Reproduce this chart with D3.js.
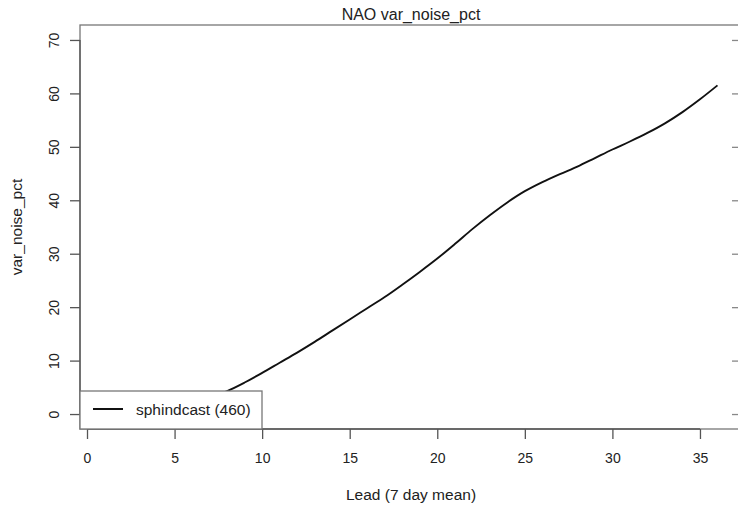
<!DOCTYPE html>
<html>
<head>
<meta charset="utf-8">
<script src="https://cdn.jsdelivr.net/npm/d3@7"></script>
<style>
  body { margin: 0; background: #fff; }
  svg { display: block; font-family: "Liberation Sans", Arial, sans-serif; }
</style>
</head>
<body>
<div id="chart"></div>
<script>
// Lead times (7 day mean) and noise variance percentage
const leads = d3.range(1, 37);
const varNoisePct = [
    0.2, 0.5, 0.9, 1.3, 1.8, 2.4, 3.1, 4.3, 5.9, 7.7,
    9.6, 11.5, 13.5, 15.6, 17.7, 19.8, 21.9, 24.2, 26.6, 29.1,
    31.8, 34.6, 37.2, 39.6, 41.7, 43.4, 44.9, 46.3, 47.9, 49.5,
    51.0, 52.6, 54.4, 56.5, 58.9, 61.5
];
const xTicks = [0, 5, 10, 15, 20, 25, 30, 35];
const yTicks = [0, 10, 20, 30, 40, 50, 60, 70];
const seriesName = "sphindcast (460)";

const width = 738, height = 506;
const box = { left: 80, right: 742, top: 25, bottom: 429 };

// R style: 4% extension of the data range
const xExt = (36 - 1) * 0.04, yExt = 70 * 0.04;
const x = d3.scaleLinear().domain([1 - xExt, 36 + xExt]).range([box.left, box.right]);
const y = d3.scaleLinear().domain([0 - yExt, 70 + yExt]).range([box.bottom, box.top]);

const svg = d3.select("#chart").append("svg")
    .attr("width", width)
    .attr("height", height);

const axisColor = "#555";
const textColor = "#222";

// plot box
svg.append("rect")
    .attr("x", box.left).attr("y", box.top)
    .attr("width", box.right - box.left).attr("height", box.bottom - box.top)
    .attr("fill", "none").attr("stroke", "#777").attr("stroke-width", 1.3);

// data line
const line = d3.line()
    .x((d, i) => x(leads[i]))
    .y(d => y(d))
    .curve(d3.curveCatmullRom);

svg.append("path")
    .datum(varNoisePct)
    .attr("d", line)
    .attr("fill", "none")
    .attr("stroke", "#111")
    .attr("stroke-width", 1.9);

// bottom axis
const xAxis = svg.append("g")
    .attr("transform", `translate(0,${box.bottom})`)
    .call(d3.axisBottom(x).tickValues(xTicks).tickSize(10).tickPadding(14).tickFormat(d3.format("d")));
xAxis.select(".domain").attr("stroke", axisColor).attr("stroke-width", 1.3)
    .attr("d", `M${x(0)},0H${x(35)}`);
xAxis.selectAll(".tick line").attr("stroke", axisColor).attr("stroke-width", 1.3);
xAxis.selectAll(".tick text").attr("fill", textColor).style("font-size", "14px");

// left axis, labels rotated like R
const yAxis = svg.append("g")
    .attr("transform", `translate(${box.left},0)`)
    .call(d3.axisLeft(y).tickValues(yTicks).tickSize(10).tickFormat(d3.format("d")));
yAxis.select(".domain").attr("stroke", axisColor).attr("stroke-width", 1.3)
    .attr("d", `M0,${y(0)}V${y(70)}`);
yAxis.selectAll(".tick line").attr("stroke", axisColor).attr("stroke-width", 1.3);
yAxis.selectAll(".tick text")
    .attr("fill", textColor).style("font-size", "14px")
    .attr("x", null)
    .attr("text-anchor", "middle")
    .attr("transform", "translate(-26,0) rotate(-90)")
    .attr("dy", "0.35em");

// right side ticks (box edge is just outside the picture)
const rAxis = svg.append("g")
    .attr("transform", `translate(${box.right},0)`)
    .call(d3.axisLeft(y).tickValues(yTicks).tickSize(10).tickFormat(""));
rAxis.select(".domain").remove();
rAxis.selectAll(".tick line").attr("stroke", "#888").attr("stroke-width", 1.3);

// titles
svg.append("text")
    .attr("x", (box.left + box.right) / 2).attr("y", 20)
    .attr("text-anchor", "middle")
    .attr("fill", textColor)
    .style("font-size", "16px")
    .text("NAO var_noise_pct");

svg.append("text")
    .attr("x", (box.left + box.right) / 2).attr("y", 500)
    .attr("text-anchor", "middle")
    .attr("fill", textColor)
    .style("font-size", "15.5px")
    .text("Lead (7 day mean)");

svg.append("text")
    .attr("transform", `translate(22,${(box.top + box.bottom) / 2}) rotate(-90)`)
    .attr("text-anchor", "middle")
    .attr("fill", textColor)
    .style("font-size", "15.5px")
    .text("var_noise_pct");

// legend, bottomleft
const legend = svg.append("g").attr("transform", `translate(${box.left},${box.bottom - 38})`);
legend.append("rect")
    .attr("width", 182).attr("height", 38)
    .attr("fill", "#fff").attr("stroke", "#777").attr("stroke-width", 1.3);
legend.append("line")
    .attr("x1", 13).attr("x2", 43).attr("y1", 18).attr("y2", 18)
    .attr("stroke", "#111").attr("stroke-width", 2);
legend.append("text")
    .attr("x", 56).attr("y", 19).attr("dy", "0.35em")
    .attr("fill", textColor)
    .style("font-size", "15.5px")
    .text(seriesName);
</script>
</body>
</html>
